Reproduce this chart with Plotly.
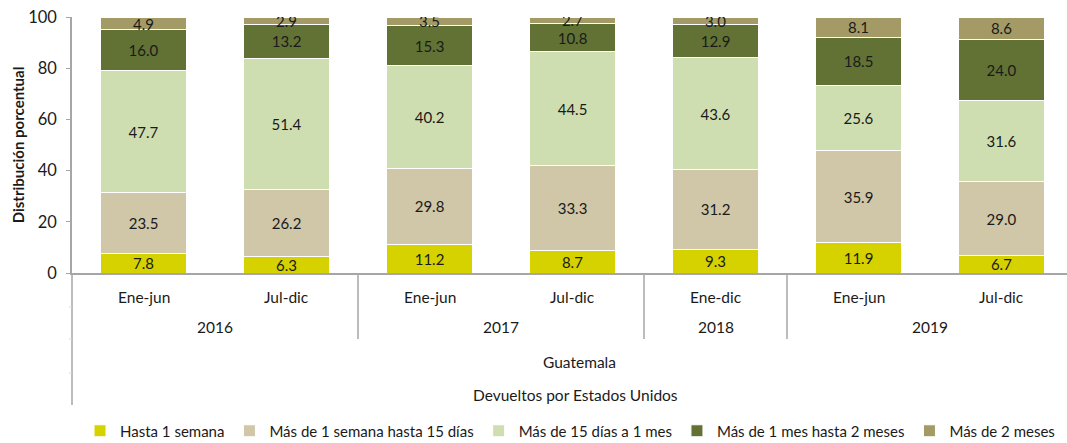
import plotly.graph_objects as go

periods = ["Ene-jun", "Jul-dic", "Ene-jun", "Jul-dic", "Ene-dic", "Ene-jun", "Jul-dic"]
years = ["2016", "2017", "2018", "2019"]
year_spans = [(0, 1), (2, 3), (4, 4), (5, 6)]
country = "Guatemala"
group_label = "Devueltos por Estados Unidos"

series_names = [
    "Hasta 1 semana",
    "Más de 1 semana hasta 15 días",
    "Más de 15 días a 1 mes",
    "Más de 1 mes hasta 2 meses",
    "Más de 2 meses",
]
hasta_1_semana = [7.8, 6.3, 11.2, 8.7, 9.3, 11.9, 6.7]
semana_15_dias = [23.5, 26.2, 29.8, 33.3, 31.2, 35.9, 29.0]
dias15_1_mes = [47.7, 51.4, 40.2, 44.5, 43.6, 25.6, 31.6]
mes1_2_meses = [16.0, 13.2, 15.3, 10.8, 12.9, 18.5, 24.0]
mas_2_meses = [4.9, 2.9, 3.5, 2.7, 3.0, 8.1, 8.6]
series_values = [hasta_1_semana, semana_15_dias, dias15_1_mes, mes1_2_meses, mas_2_meses]
colors = ["#D6D200", "#D0C6A8", "#CFDEB0", "#617234", "#A39A66"]

FONT = "Lato"
TXT = "#1a1a1a"
x = list(range(len(periods)))

fig = go.Figure()
for name, vals, col in zip(series_names, series_values, colors):
    fig.add_trace(go.Bar(
        x=x, y=vals, name=name, width=0.6,
        marker=dict(color=col, line=dict(color="white", width=1)),
        text=[f"{v:.1f}" for v in vals],
        textposition="inside", insidetextanchor="middle",
        constraintext="none", textangle=0,
        textfont=dict(family=FONT, size=15, color=TXT),
        hoverinfo="skip",
    ))

TOP, BOT = 17, 273
def py(p):
    return (BOT - p) / float(BOT - TOP)

def label(xv, pix, text):
    return dict(x=xv, y=py(pix), xref="x", yref="paper", text=text,
                xanchor="center", yanchor="middle", showarrow=False,
                font=dict(family=FONT, size=15.5, color=TXT))

annotations = []
for i, p in enumerate(periods):
    annotations.append(label(i, 297, p))
for yr, (a, b) in zip(years, year_spans):
    annotations.append(label((a + b) / 2, 327, yr))
annotations.append(label(3.05, 362, country))
annotations.append(label(3.02, 395, group_label))

shapes = []
line_col = "#A6A6A6"
for (a, b) in year_spans[:-1]:
    xb = b + 0.5
    shapes.append(dict(type="line", xref="x", yref="paper", x0=xb, x1=xb,
                       y0=0, y1=py(339), line=dict(color=line_col, width=1.5)))
shapes.append(dict(type="line", xref="paper", yref="paper", x0=0, x1=0,
                   y0=0, y1=py(405), line=dict(color=line_col, width=1.5)))
for p in (307, 339, 373):
    shapes.append(dict(type="line", xref="paper", yref="paper", x0=-0.003, x1=0,
                       y0=py(p), y1=py(p), line=dict(color="#D9D9D9", width=1)))

fig.update_layout(
    barmode="stack",
    width=1067, height=443,
    margin=dict(l=72, r=0, t=TOP, b=443 - BOT, autoexpand=False),
    paper_bgcolor="white", plot_bgcolor="white",
    font=dict(family=FONT, size=15, color=TXT),
    showlegend=True,
    legend=dict(orientation="h", xref="container", x=570 / 1067.0, xanchor="center",
                yref="container", y=(443 - 431) / 443.0, yanchor="middle",
                font=dict(family=FONT, size=15, color=TXT),
                traceorder="normal", itemwidth=30, bgcolor="rgba(0,0,0,0)"),
    annotations=annotations,
    shapes=shapes,
)
fig.update_xaxes(range=[-0.5, 6.458], showticklabels=False, showgrid=False, zeroline=False,
                 showline=True, linecolor=line_col, linewidth=1.5, ticks="", fixedrange=True,
                 automargin=False)
fig.update_yaxes(range=[0, 100], tickvals=[0, 20, 40, 60, 80, 100], showgrid=False,
                 zeroline=False, showline=True, linecolor=line_col, linewidth=1.5,
                 ticks="outside", ticklen=4, tickcolor=line_col, ticklabelstandoff=6,
                 automargin=False, fixedrange=True,
                 tickfont=dict(family=FONT, size=16.5, color=TXT),
                 title=dict(text="<b>Distribución porcentual</b>",
                            font=dict(family=FONT, size=15, color=TXT), standoff=0))

fig.write_html("out.html", config={"displayModeBar": False},
               post_script="document.body.style.margin='0';")
